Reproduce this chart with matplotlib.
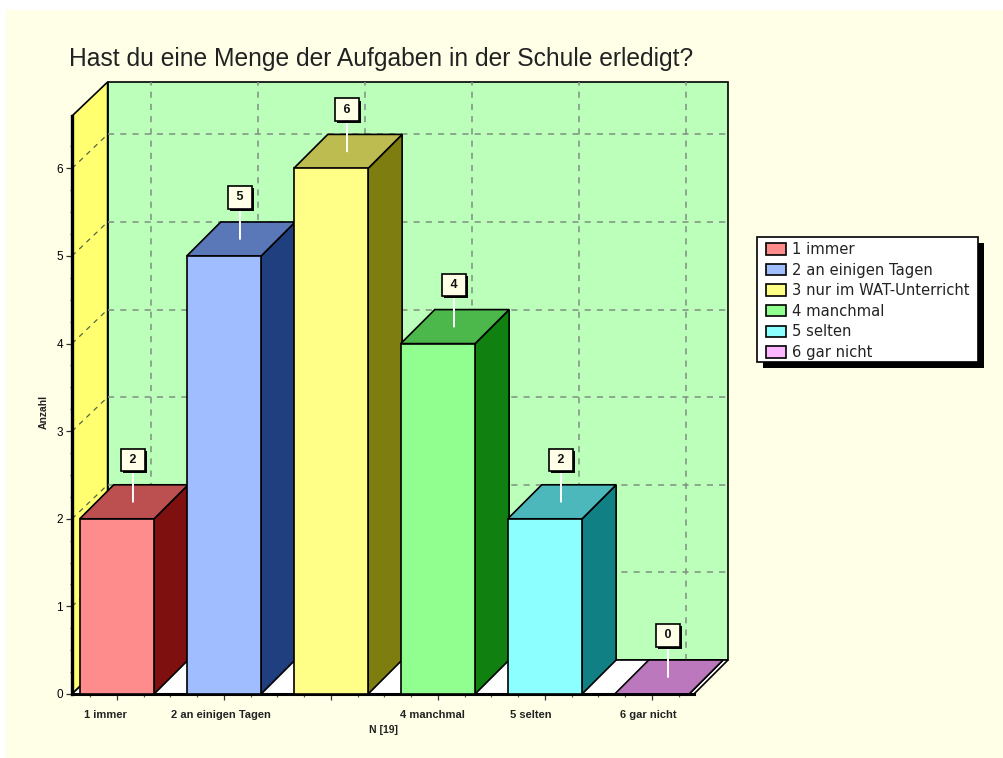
import matplotlib
matplotlib.use('Agg')
import matplotlib.pyplot as plt
import matplotlib.patheffects as pe
from matplotlib.patches import Polygon, Patch, Rectangle
from matplotlib.transforms import ScaledTranslation
import numpy as np

# data
categories = ['1 immer', '2 an einigen Tagen', '3 nur im WAT-Unterricht', '4 manchmal', '5 selten', '6 gar nicht']
tick_labels = ['1 immer', '2 an einigen Tagen', '', '4 manchmal', '5 selten', '6 gar nicht']
values = [2, 5, 6, 4, 2, 0]
front_colors = ['#FF8C8C', '#A0BEFF', '#FFFF88', '#90FF90', '#8CFFFF', '#FFB8FF']
top_colors = ['#BC5050', '#5A78B8', '#BCBC50', '#4CB84C', '#4CB8BC', '#BC78BC']
side_colors = ['#7E1010', '#1F3F7E', '#7E7E10', '#108010', '#108084', '#7E107E']
# the tick labels sit a bit left of their ticks in the original (pixels)
label_shift = [-11.5, -3, 0, -6, -14, -4]

W, H = 1004, 758
fig = plt.figure(figsize=(W / 100, H / 100), dpi=100, facecolor='white')
plt.rcParams['font.family'] = ['Liberation Sans', 'DejaVu Sans']

# cream panel behind everything
fig.add_artist(Rectangle((6 / W, 0), (W - 6) / W, (H - 10) / H, transform=fig.transFigure,
                         facecolor='#FFFFE8', edgecolor='none', zorder=-5))

ax = fig.add_axes([72 / W, (H - 694) / H, 622 / W, 578 / H])
ax.patch.set_visible(False)
ax.set_xlim(-0.42, 5.393)
ax.set_ylim(0, 6.598)

# depth of the fake 3d box, in data units
dx = 34 / 107
dy = 34 / 87.6
bar_w = 0.695
xl, xr = ax.get_xlim()
yt = ax.get_ylim()[1]
xb = xl + dx + 0.015  # left edge of the back wall


def poly(pts, fc, z, ec='black', lw=1.2):
    ax.add_patch(Polygon(pts, closed=True, facecolor=fc, edgecolor=ec, linewidth=lw,
                         clip_on=False, zorder=z, joinstyle='miter'))


# walls and floor
poly([(xb, dy), (xb, yt + dy), (xr + dx, yt + dy), (xr + dx, dy)], '#BBFFBB', 1)
poly([(xl, 0), (xl, yt), (xb, yt + dy), (xb, dy)], '#FFFF70', 1)
poly([(xl, 0), (xb, dy), (xr + dx, dy), (xr, 0)], 'white', 1)

# grid on the walls
grid = dict(color='#7F8F7F', linewidth=1.1, linestyle=(0, (4, 4)), clip_on=False, zorder=2)
for i in range(len(categories)):
    ax.plot([i + dx, i + dx], [dy, yt + dy], **grid)
for v in range(1, 7):
    ax.plot([xb, xr + dx], [v + dy, v + dy], **grid)
    ax.plot([xl, xb], [v, v + dy], color='#556644', linewidth=0.9,
            linestyle=(0, (4, 4)), clip_on=False, zorder=2)

# bars
for i, v in enumerate(values):
    x0 = i - bar_w / 2
    x1 = i + bar_w / 2
    z = 3 + i * 0.1
    poly([(x1, 0), (x1 + dx, dy), (x1 + dx, v + dy), (x1, v)], side_colors[i], z)
    poly([(x0, v), (x0 + dx, v + dy), (x1 + dx, v + dy), (x1, v)], top_colors[i], z)
    poly([(x0, 0), (x0, v), (x1, v), (x1, 0)], front_colors[i], z)

# floor front edge goes over the bars' feet
ax.plot([xl, xr], [0, 0], color='black', linewidth=2.2, clip_on=False, zorder=2.5)

# value boxes
for i, v in enumerate(values):
    ann = ax.annotate(f' {v} ', xy=(i + dx / 2 - 0.009, v + dy / 2), xytext=(0, 30),
                      textcoords='offset points', ha='center', va='center', fontsize=9,
                      fontweight='bold', color='#111111', annotation_clip=False, zorder=10,
                      bbox=dict(boxstyle='square,pad=0.42', facecolor='#FFFFE8', edgecolor='black', linewidth=1.2),
                      arrowprops=dict(arrowstyle='-', color='white', linewidth=1.4, shrinkA=0, shrinkB=0))
    ann.get_bbox_patch().set_path_effects([
        pe.SimplePatchShadow(offset=(1.5, -1.5), shadow_rgbFace='black', alpha=1), pe.Normal()])

# axes
for s in ['top', 'right', 'bottom']:
    ax.spines[s].set_visible(False)
ax.spines['left'].set_linewidth(2.4)
ax.spines['left'].set_zorder(6)
ax.set_xticks(range(len(categories)))
ax.set_xticklabels(tick_labels, fontsize=8, fontweight='bold', color='#222222')
ax.set_xticks(np.arange(-0.25, 5.3, 0.25), minor=True)
ax.set_yticks(range(7))
ax.set_yticks(np.arange(0.25, 6.5, 0.25), minor=True)
ax.tick_params(axis='y', which='major', length=4.5, width=0.9, labelsize=8.5, pad=2, color='#333333')
ax.tick_params(axis='y', which='minor', length=1.5, width=0.9, color='#555555')
ax.tick_params(axis='x', which='major', length=4, width=0.9, pad=7.5, color='#333333')
ax.tick_params(axis='x', which='minor', length=2.5, width=0.9, color='#555555')
for lab, shift in zip(ax.get_xticklabels(), label_shift):
    lab.set_transform(lab.get_transform() + ScaledTranslation(shift / 100, 0, fig.dpi_scale_trans))


# labels, placed in pixels
def px_text(x, y, s, **kw):
    fig.text(x / W, 1 - y / H, s, **kw)


px_text(69, 59, 'Hast du eine Menge der Aufgaben in der Schule erledigt?', fontsize=17.7,
        color='#222222', va='center', ha='left')
px_text(384, 730, 'N [19]', fontsize=7.5, fontweight='bold', color='#222222', va='center', ha='center')
px_text(44, 412, 'Anzahl', fontsize=7.5, fontweight='bold', color='#222222', va='center', ha='center',
        rotation=90)

# legend frame with its hard shadow, then the entries on top
fig.add_artist(Rectangle((763 / W, 1 - 368 / H), 221 / W, 125 / H, transform=fig.transFigure,
                         facecolor='black', edgecolor='none', zorder=1))
fig.add_artist(Rectangle((757 / W, 1 - 362 / H), 221 / W, 125 / H, transform=fig.transFigure,
                         facecolor='white', edgecolor='black', linewidth=1.2, zorder=1.5))
handles = [Patch(facecolor=c, edgecolor='black', linewidth=1.2, label=l)
           for c, l in zip(front_colors, categories)]
leg = fig.legend(handles=handles, loc='upper left', bbox_to_anchor=(766 / W, 1 - 242 / H),
                 bbox_transform=fig.transFigure, prop={'family': 'DejaVu Sans', 'size': 10.6},
                 frameon=False, borderaxespad=0, borderpad=0, labelspacing=0.38, handlelength=1.36,
                 handleheight=0.82, handletextpad=0.4)
leg.set_zorder(2)
for t in leg.get_texts():
    t.set_color('#222222')

fig.savefig('out.png', dpi=100, facecolor=fig.get_facecolor())
